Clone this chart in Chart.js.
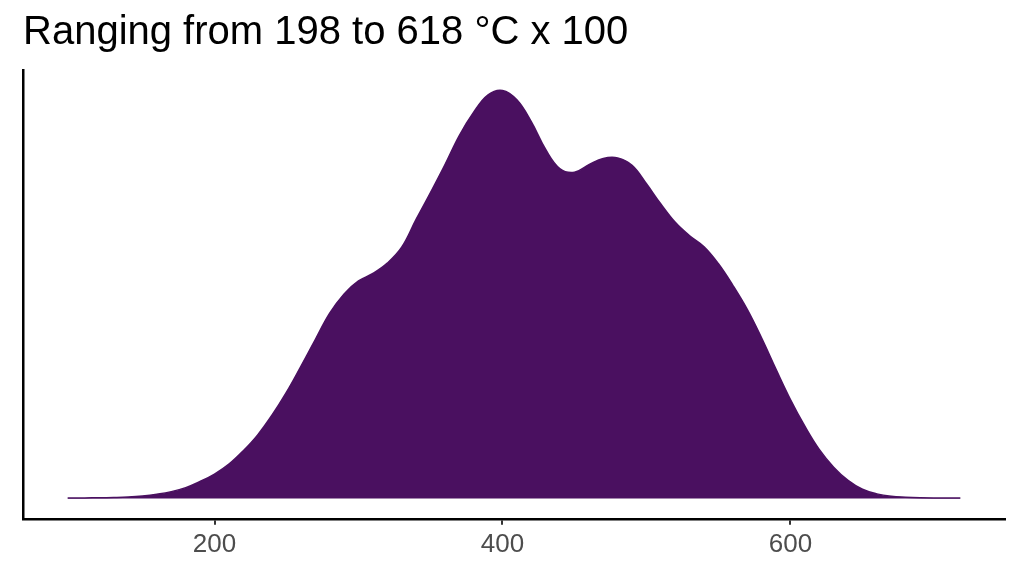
<!DOCTYPE html>
<html>
<head>
<meta charset="utf-8">
<script src="https://cdn.jsdelivr.net/npm/chart.js@4.4.1/dist/chart.umd.min.js"></script>
<style>
  html, body { margin: 0; padding: 0; background: #fff; }
  #wrap { width: 1024px; height: 576px; }
</style>
</head>
<body>
<div id="wrap"><canvas id="densityChart"></canvas></div>
<script>
// Données (température x 100, densité x 1e-3)
const titleText = "Ranging from 198 to 618 °C x 100";
const tempValues = [98, 110, 120, 130, 140, 150, 160, 170, 180, 190, 200, 210, 220, 230, 240, 250, 260, 270, 280, 290,
  300, 310, 320, 330, 340, 350, 360, 370, 380, 390, 400, 410, 420, 430, 440, 450, 460, 470, 480, 490,
  500, 510, 520, 530, 540, 550, 560, 570, 580, 590, 600, 610, 620, 630, 640, 650, 660, 670, 680, 690, 700, 718];
const densityValues = [0.004, 0.005, 0.006, 0.009, 0.014, 0.024, 0.041, 0.066, 0.105, 0.165, 0.237, 0.334, 0.465, 0.620, 0.814, 1.037, 1.289, 1.550, 1.807, 1.996,
  2.122, 2.195, 2.296, 2.451, 2.723, 2.985, 3.256, 3.541, 3.769, 3.939, 3.982, 3.890, 3.677, 3.406, 3.217, 3.183, 3.256, 3.318, 3.323, 3.251,
  3.071, 2.873, 2.694, 2.563, 2.456, 2.290, 2.080, 1.845, 1.565, 1.260, 0.965, 0.705, 0.478, 0.305, 0.176, 0.089, 0.044, 0.021, 0.012, 0.007, 0.005, 0.004];
const xTicks = [200, 400, 600];

const fillColor = "#4A1060";

// expansion de 5% comme ggplot
const xSpan = tempValues[tempValues.length - 1] - tempValues[0];
const yPeak = Math.max(...densityValues);

const ctx = document.getElementById("densityChart").getContext("2d");
const chart = new Chart(ctx, {
  type: 'line',
  data: {
    datasets: [{
      data: tempValues.map((t, i) => ({ x: t, y: densityValues[i] })),
      borderColor: fillColor,
      backgroundColor: fillColor,
      borderWidth: 1.5,
      fill: 'origin',
      pointRadius: 0,
      tension: 0.4
    }]
  },
  options: {
    responsive: true,
    maintainAspectRatio: false,
    animation: false,
    layout: { padding: { left: 23, right: 19, top: 0, bottom: 12 } },
    plugins: {
      legend: { display: false },
      tooltip: { enabled: false },
      title: {
        display: true,
        text: titleText,
        align: 'start',
        color: '#000',
        font: { family: 'Liberation Sans, Arial, sans-serif', size: 40, weight: 'normal' },
        padding: { top: 9, bottom: 13 }
      }
    },
    scales: {
      x: {
        type: 'linear',
        min: tempValues[0] - 0.05 * xSpan,
        max: tempValues[tempValues.length - 1] + 0.05 * xSpan,
        afterBuildTicks: scale => { scale.ticks = xTicks.map(v => ({ value: v })); },
        grid: { drawOnChartArea: false, drawTicks: true, tickLength: 6, color: '#333333', lineWidth: 2 },
        border: { display: true, color: '#000', width: 2.5 },
        ticks: {
          color: '#4D4D4D',
          padding: 4,
          maxRotation: 0,
          font: { family: 'Liberation Sans, Arial, sans-serif', size: 26 },
          callback: v => String(v)
        }
      },
      y: {
        min: -0.05 * yPeak,
        max: 1.05 * yPeak,
        grid: { display: false, drawTicks: false },
        border: { display: true, color: '#000', width: 2.5 },
        ticks: { display: false }
      }
    }
  }
});
</script>
</body>
</html>
